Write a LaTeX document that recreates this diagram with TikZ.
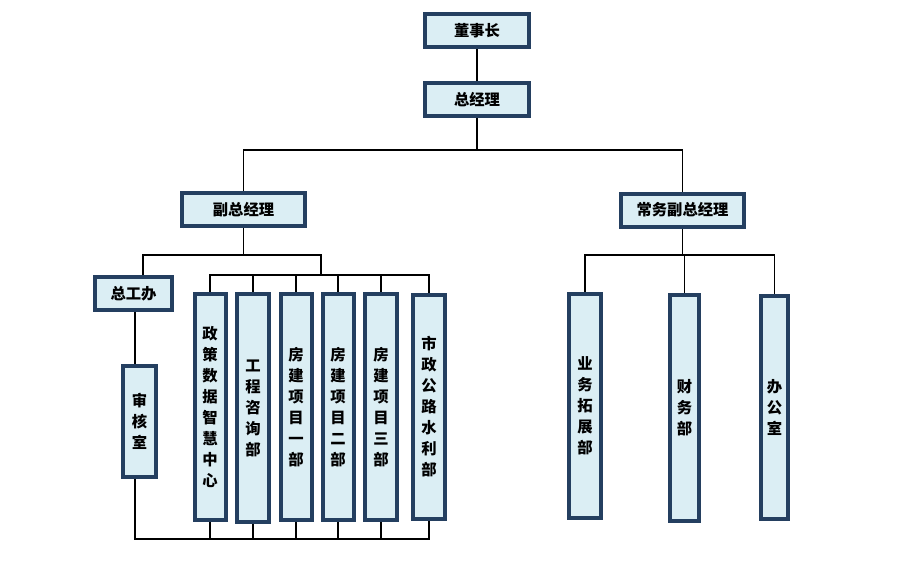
\documentclass[tikz,border=0pt]{standalone}
\usepackage{fontspec}
\newfontfamily\cjk{Noto Sans CJK SC}
\usepackage{tikz}
\usetikzlibrary{positioning, backgrounds}
\definecolor{postline}{RGB}{36,63,96}
\definecolor{postfill}{RGB}{219,238,244}
\tikzstyle{post} = [rectangle, draw=postline, fill=postfill, line width=3pt, inner sep=0pt, text centered, font=\cjk\bfseries\fontsize{11.5pt}{15.75pt}\selectfont]
\tikzstyle{hbox} = [post, minimum height=24.75pt]
\tikzstyle{vbox} = [post, align=center, minimum width=23.25pt, minimum height=169.5pt]
\tikzstyle{link} = [line width=0.9pt, black]

\begin{document}
\begin{tikzpicture}[x=0.75pt, y=-0.75pt, node distance=51.75pt]
\useasboundingbox (0,0) rectangle (913,574);

\node (chair) [hbox, minimum width=78pt] at (477,30.5) {董事长};
\node (gm) [hbox, minimum width=78pt, below of=chair] {总经理};
\node (vgm) [hbox, minimum width=92.25pt] at (243.5,209.5) {副总经理};
\node (evgm) [hbox, minimum width=92.25pt] at (682.5,210) {常务副总经理};

\node (chief) [hbox, minimum width=57.75pt] at (133.5,293.5) {总工办};
\node (audit) [vbox, minimum width=24.75pt, minimum height=83.25pt] at (139.5,421.5) {审\\核\\室};
\node (d1) [vbox] at (210,407) {政\\策\\数\\据\\智\\慧\\中\\心};
\node (d2) [vbox, minimum width=24pt, minimum height=171pt] at (253,408) {工\\程\\咨\\询\\部};
\node (d3) [vbox] at (296,407) {房\\建\\项\\目\\一\\部};
\node (d4) [vbox] at (338,407) {房\\建\\项\\目\\二\\部};
\node (d5) [vbox, minimum width=24pt] at (381,407) {房\\建\\项\\目\\三\\部};
\node (d6) [vbox, minimum width=24pt, minimum height=168pt] at (429,407) {市\\政\\公\\路\\水\\利\\部};

\node (r1) [vbox, minimum width=24pt, minimum height=168pt] at (585,406) {业\\务\\拓\\展\\部};
\node (r2) [vbox, minimum width=21.75pt] at (684.5,408) {财\\务\\部};
\node (r3) [vbox, minimum width=20.25pt, minimum height=167.25pt] at (774.5,407.5) {办\\公\\室};

\coordinate (split) at (477,150);
\coordinate (lsplit) at (243.5,255);
\coordinate (rsplit) at (682.5,255);
\coordinate (chiefin) at (143,275);
\coordinate (dsplit) at (321,275);
\coordinate (spine) at (135,539);

\begin{scope}[on background layer]
\draw [link] (chair) -- (gm);
\draw [link] (gm.south) -- (split);
\draw [link] (vgm.north) |- (split) -| (evgm.north);
\draw [link] (vgm.south) -- (lsplit);
\draw [link] (chiefin) |- (lsplit) -| (dsplit);
\draw [link] (d1.north) |- (dsplit) -| (d6.north);
\foreach \n in {d2,d3,d4,d5}
  \draw [link] (\n.north) -- (\n.north |- dsplit);
\draw [link] (chief.south -| spine) -- (audit.north -| spine);
\draw [link] (audit.south -| spine) -- (spine) -| (d6.south);
\foreach \n in {d1,d2,d3,d4,d5}
  \draw [link] (\n.south) -- (\n.south |- spine);
\draw [link] (evgm.south) -- (rsplit);
\draw [link] (r1.north) |- (rsplit) -| (r3.north);
\draw [link] (r2.north) -- (r2.north |- rsplit);
\end{scope}

\end{tikzpicture}
\end{document}
